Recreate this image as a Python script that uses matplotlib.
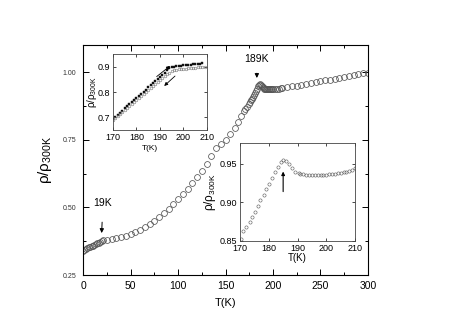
import matplotlib
matplotlib.use("Agg")
import matplotlib.pyplot as plt
from matplotlib.ticker import MultipleLocator

plt.rcParams['font.family'] = ['Liberation Sans', 'DejaVu Sans']
plt.rcParams['mathtext.fontset'] = 'custom'
plt.rcParams['mathtext.rm'] = 'Liberation Sans'
plt.rcParams['mathtext.it'] = 'Liberation Sans'

# main curve: rho/rho(300K) vs T
T_main = [0, 1.5, 3, 4.5, 6, 7.5, 9, 10.5, 12, 13.5, 15, 16.5, 18, 19.5, 21,
          25, 30, 35, 40, 45, 50, 55, 60, 65, 70, 75, 80, 85, 90, 95, 100,
          105, 110, 115, 120, 125, 130, 135, 140, 145, 150, 155, 160, 163,
          166, 169, 171, 173, 175, 176, 177, 178, 179, 180, 181, 182, 183,
          184, 185, 186, 187, 188, 189, 190, 191, 192, 193, 194, 195, 196,
          197, 198, 199, 200, 202, 204, 206, 208, 210, 215, 220, 225, 230,
          235, 240, 245, 250, 255, 260, 265, 270, 275, 280, 285, 290, 295, 300]
r_main = [.340, .343, .346, .349, .352, .354, .357, .359, .362, .364, .367,
          .370, .373, .376, .378, .380, .382, .385, .389, .395, .402, .409,
          .418, .427, .438, .450, .464, .479, .495, .512, .530, .549, .569,
          .590, .612, .635, .659, .690, .720, .735, .750, .770, .795, .815,
          .838, .855, .862, .870, .881, .888, .895, .902, .909, .916, .923,
          .931, .939, .947, .953, .955, .952, .947, .943, .940, .939, .938,
          .937, .937, .937, .937, .937, .937, .937, .937, .938, .938, .939,
          .940, .941, .944, .947, .950, .953, .956, .959, .962, .966, .969,
          .972, .975, .979, .982, .985, .989, .992, .995, .998]

# inset 1: warming (filled) and cooling (open)
T_warm = [170, 171, 172, 173, 174, 175, 176, 177, 178, 179, 180, 181, 182,
          183, 184, 185, 186, 187, 188, 189, 190, 191, 192, 193, 194, 195,
          196, 197, 198, 199, 200, 201, 202, 203, 204, 205, 206, 207, 208]
r_warm = [.695, .703, .711, .719, .727, .735, .744, .752, .760, .768, .776,
          .784, .793, .801, .809, .818, .826, .835, .843, .852, .860, .868,
          .877, .886, .894, .898, .900, .902, .903, .904, .905, .906, .907,
          .908, .909, .910, .911, .912, .913]
T_cool = [170, 171, 172, 173, 174, 175, 176, 177, 178, 179, 180, 181, 182,
          183, 184, 185, 186, 187, 188, 189, 190, 191, 192, 193, 194, 195,
          196, 197, 198, 199, 200, 201, 202, 203, 204, 205, 206, 207, 208, 209]
r_cool = [.688, .696, .704, .712, .720, .728, .736, .744, .752, .760, .768,
          .776, .784, .792, .800, .808, .816, .824, .832, .840, .848, .856,
          .863, .870, .876, .881, .885, .887, .889, .890, .891, .892, .893,
          .894, .895, .896, .897, .897, .898, .899]

# inset 2: zoom on the 189K anomaly
T_zoom = [170.2, 171, 172.2, 173.4, 174.3, 175.2, 176.1, 177, 178.2, 179.2,
          180.1, 181, 182.2, 183.1, 184.1, 184.9, 185.9, 187.1, 188, 189.2,
          190.4, 191, 192, 193, 194, 195, 196, 197, 198, 199, 200, 201, 202,
          203, 204, 205, 206, 207, 208, 209, 210]
r_zoom = [.852, .863, .868, .874, .881, .888, .896, .903, .910, .917, .924,
          .931, .939, .946, .952, .955, .954, .950, .944, .940, .938, .937,
          .937, .936, .936, .936, .936, .936, .936, .936, .936, .937, .937,
          .937, .938, .938, .939, .940, .941, .942, .944]

fig = plt.figure(figsize=(4.63, 3.27), dpi=100)
ax = fig.add_axes([0.1793, 0.159, 0.6155, 0.7034])
ax.plot(T_main, r_main, 'o', mfc='none', mec='#555555', ms=4.2, mew=0.55)
ax.set_xlim(0, 300)
ax.set_ylim(0.25, 1.10)
ax.xaxis.set_major_locator(MultipleLocator(50))
ax.xaxis.set_minor_locator(MultipleLocator(25))
ax.yaxis.set_major_locator(MultipleLocator(0.25))
ax.yaxis.set_minor_locator(MultipleLocator(0.125))
ax.tick_params(which='both', direction='in', top=True, right=True, width=0.7)
ax.tick_params(which='major', length=4)
ax.tick_params(which='minor', length=2.5)
ax.tick_params(axis='x', labelsize=7.5, pad=4)
ax.tick_params(axis='y', labelsize=5, pad=5, labelcolor='#333333')
ax.set_yticks([0.25, 0.5, 0.75, 1.0])
ax.set_yticklabels(['0.25', '0.50', '0.75', '1.00'])
ax.set_xlabel('T(K)', fontsize=8, labelpad=5)
ax.set_ylabel(r'$\rho/\rho_{300K}$', fontsize=11, labelpad=6)
for s in ax.spines.values():
    s.set_linewidth(0.8)

ax.annotate('189K', xy=(183, 0.978), xytext=(183, 1.05), ha='center',
            va='center', fontsize=7.5,
            arrowprops=dict(arrowstyle='-|>', color='k', lw=0.7,
                            mutation_scale=6, shrinkA=5, shrinkB=0))
ax.annotate('19K', xy=(19.6, 0.405), xytext=(21, 0.515), ha='center',
            va='center', fontsize=7.5,
            arrowprops=dict(arrowstyle='-|>', color='k', lw=0.7,
                            mutation_scale=6, shrinkA=8, shrinkB=0))

# inset 1
a1 = fig.add_axes([0.244, 0.6024, 0.203, 0.2324])
a1.plot(T_warm, r_warm, 's', color='#111111', ms=1.5, mew=0.3)
a1.plot(T_cool, r_cool, 'o', mfc='none', mec='#777777', ms=1.9, mew=0.4)
a1.set_xlim(170, 210)
a1.set_ylim(0.65, 0.95)
a1.set_xticks([170, 180, 190, 200, 210])
a1.set_yticks([0.7, 0.8, 0.9])
a1.tick_params(direction='in', length=2, width=0.5, labelsize=6.5, pad=2,
               right=True, top=True)
a1.set_xlabel('T(K)', fontsize=6)
a1.xaxis.set_label_coords(0.39, -0.2)
a1.set_ylabel(r'$\rho/\rho_{300K}$', fontsize=7, labelpad=-1)
for s in a1.spines.values():
    s.set_linewidth(0.6)
    s.set_color('#444444')
a1.annotate('', xy=(194.3, 0.903), xytext=(188.6, 0.861),
            arrowprops=dict(arrowstyle='-|>', color='k', lw=0.6,
                            mutation_scale=5, shrinkA=0, shrinkB=0))
a1.annotate('', xy=(191.8, 0.824), xytext=(196.4, 0.863),
            arrowprops=dict(arrowstyle='-|>', color='k', lw=0.6,
                            mutation_scale=5, shrinkA=0, shrinkB=0))

# inset 2
a2 = fig.add_axes([0.5184, 0.263, 0.2484, 0.2997])
a2.plot(T_zoom, r_zoom, 'o', mfc='none', mec='#555555', ms=2.3, mew=0.4)
a2.set_xlim(170, 210)
a2.set_ylim(0.85, 0.977)
a2.set_xticks([170, 180, 190, 200, 210])
a2.set_yticks([0.85, 0.90, 0.95])
a2.set_yticklabels(['0.85', '0.90', '0.95'])
a2.tick_params(direction='in', length=2.5, width=0.5, labelsize=6.5, pad=2,
               right=True, top=True)
a2.set_xlabel('T(K)', fontsize=7, labelpad=0)
a2.set_ylabel(r'$\rho/\rho_{300K}$', fontsize=8.5, labelpad=1)
for s in a2.spines.values():
    s.set_linewidth(0.6)
    s.set_color('#444444')
a2.annotate('', xy=(185, 0.94), xytext=(185, 0.914),
            arrowprops=dict(arrowstyle='-|>', color='k', lw=0.8,
                            mutation_scale=5, shrinkA=0, shrinkB=0))

fig.savefig('out.png', dpi=100)
